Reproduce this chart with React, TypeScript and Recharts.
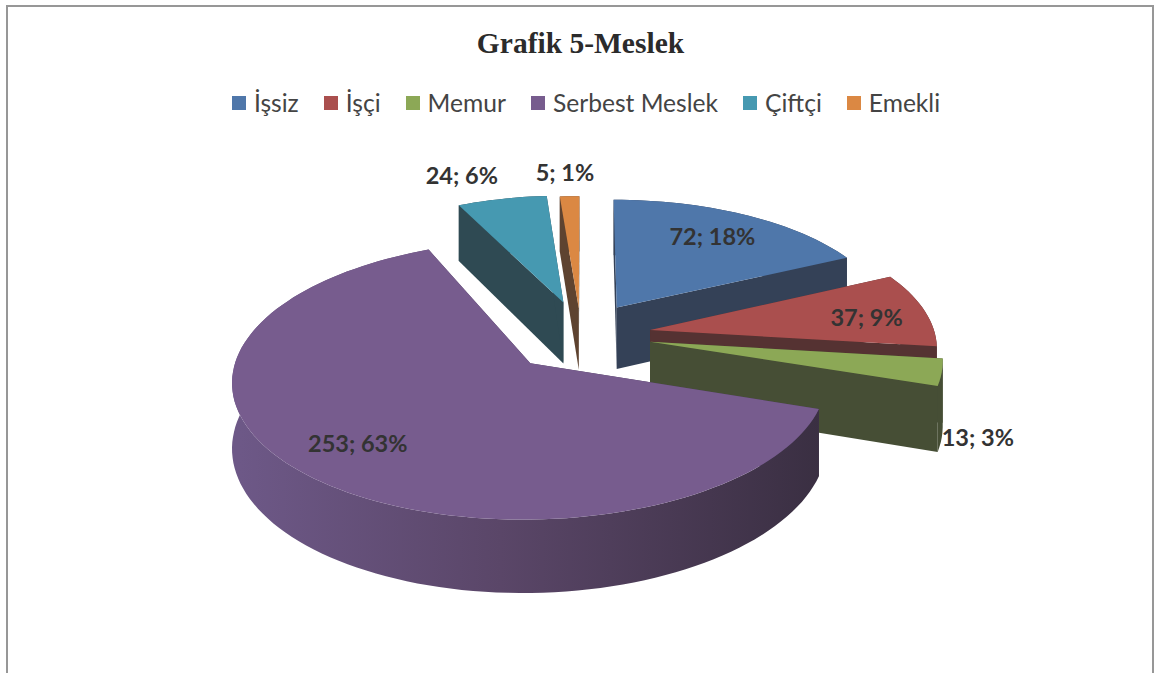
import React from 'react';
import { PieChart, Pie, Cell, Legend } from 'recharts';

const CATEGORIES = ['İşsiz', 'İşçi', 'Memur', 'Serbest Meslek', 'Çiftçi', 'Emekli'];
const VALUES = [72, 37, 13, 253, 24, 5];

const COLORS = ['#4f77aa', '#aa4f4e', '#8ca856', '#775c8e', '#4699b1', '#db8843'];
const WALLS = ['#344157', '#553232', '#464e35', '#4a3d5a', '#2f4a53', '#5e4330'];
const RIMS_DARK = ['#344157', '#553232', '#464e35', '#3a2f42', '#2f4a53', '#5e4330'];

// how far each slice is pulled out of the pie, as a share of the radius
const EXPLODE = [0.235, 0.23, 0.23, 0.28, 0.265, 0.21];
const SHIFT_U = [-0.012, 0, 0, 0, -0.008, -0.014];
const SHIFT_V = [-0.015, 0, 0, 0, 0, 0];
const SLICE_SCALE = [0.96, 0.99, 1, 1, 0.96, 1];
const END_TRIM = [0, 0, 0, -2.1, 0, 0];
// label placement: share of radius along the slice middle, then small nudges
const LABEL_R = [0.55, 0.82, 1.1, 0.62, 1.05, 1.02];
const LABEL_DX = [16, -11, 6, -41, -37, -8];
const LABEL_DY = [-18, 4, 62, 12, -15, -22];

const total = VALUES.reduce((a, b) => a + b, 0);
const tableData = CATEGORIES.map((name, i) => ({ name, value: VALUES[i] }));

// fake 3D: the pie is a flat disc seen through a simple perspective
const CX = 585;
const CY = 335;
const RX = 288;
const RY = 131;
const K = 0.117;
const DEPTH = 63;
const RAD = Math.PI / 180;

const project = (u: number, v: number, h = 0) => {
  const s = 1 / (1 - K * v);
  return [CX + RX * u * s, CY + RY * v * s + h * s];
};

const pts = (list: number[][]) =>
  'M' + list.map((p) => `${p[0].toFixed(1)},${p[1].toFixed(1)}`).join('L') + 'Z';

const Slice3D = (props: any) => {
  const { startAngle, endAngle, midAngle, name, fill } = props;
  const i = CATEGORIES.indexOf(name);
  const ox = Math.cos(midAngle * RAD) * EXPLODE[i] + SHIFT_U[i];
  const oy = -Math.sin(midAngle * RAD) * EXPLODE[i] + SHIFT_V[i];
  const end = endAngle + END_TRIM[i];

  const steps = Math.max(2, Math.ceil(Math.abs(end - startAngle) / 2));
  const arc: number[][] = [];
  for (let n = 0; n <= steps; n++) {
    const a = (startAngle + ((end - startAngle) * n) / steps) * RAD;
    arc.push([ox + Math.cos(a) * SLICE_SCALE[i], oy - Math.sin(a) * SLICE_SCALE[i]]);
  }
  const top = arc.map((p) => project(p[0], p[1]));
  const low = arc.map((p) => project(p[0], p[1], DEPTH));
  const apexTop = project(ox, oy);
  const apexLow = project(ox, oy, DEPTH);

  const gradId = `rim-${i}`;
  return (
    <g>
      <defs>
        <linearGradient id={gradId} gradientUnits="userSpaceOnUse" x1={240} x2={820} y1={0} y2={0}>
          <stop offset="0%" stopColor={i === 3 ? '#6d5887' : WALLS[i]} />
          <stop offset="45%" stopColor={i === 3 ? '#5a4668' : WALLS[i]} />
          <stop offset="100%" stopColor={RIMS_DARK[i]} />
        </linearGradient>
      </defs>
      <path d={pts([top[0], apexTop, apexLow, low[0]])} fill={WALLS[i]} />
      <path d={pts([top[top.length - 1], apexTop, apexLow, low[low.length - 1]])} fill={WALLS[i]} />
      <path d={pts([...top, ...low.slice().reverse()])} fill={`url(#${gradId})`} />
      <path d={pts([apexTop, ...top])} fill={fill} />
    </g>
  );
};

const renderLabel = (props: any) => {
  const { midAngle, index, value } = props;
  const dirU = Math.cos(midAngle * RAD);
  const dirV = -Math.sin(midAngle * RAD);
  const r = EXPLODE[index] + LABEL_R[index];
  const [x, y] = project(dirU * r, dirV * r);
  return (
    <text
      key={index}
      x={x + LABEL_DX[index]}
      y={y + LABEL_DY[index]}
      textAnchor="middle"
      dominantBaseline="central"
      fontFamily="Lato"
      fontWeight={700}
      fontSize={23.5}
      fill="#333333"
    >
      {`${value}; ${Math.round((value / total) * 100)}%`}
    </text>
  );
};

const LegendRow = ({ payload }: any) => (
  <div style={{ display: 'flex', justifyContent: 'center', gap: 25 }}>
    {(payload || []).map((item: any) => (
      <div key={item.value} style={{ display: 'flex', alignItems: 'center', gap: 8 }}>
        <span style={{ width: 14, height: 14, background: item.color, display: 'inline-block' }} />
        <span style={{ fontFamily: 'Lato', fontSize: 24.6, color: '#444444', lineHeight: '28px' }}>{item.value}</span>
      </div>
    ))}
  </div>
);

export default function App() {
  return (
    <div style={{ position: 'absolute', left: 0, top: 0, width: 1155, height: 673, overflow: 'hidden', background: '#fff' }}>
      <div
        style={{
          position: 'absolute',
          left: 6,
          top: 5,
          width: 1148,
          height: 680,
          border: '2px solid #979797',
          boxSizing: 'border-box',
        }}
      />
      <div
        style={{
          position: 'absolute',
          left: 0,
          width: 1161,
          top: 27,
          textAlign: 'center',
          fontFamily: 'Liberation Serif',
          fontWeight: 700,
          fontSize: 29.5,
          color: '#2b2b2b',
        }}
      >
        Grafik 5-Meslek
      </div>
      <PieChart width={1155} height={673}>
        <Legend
          content={<LegendRow />}
          verticalAlign="top"
          itemSorter={null}
          wrapperStyle={{ position: 'absolute', top: 89, left: 0, width: 1172 }}
        />
        <Pie
          data={tableData}
          dataKey="value"
          nameKey="name"
          cx={CX}
          cy={CY}
          outerRadius={RX}
          startAngle={90}
          endAngle={-270}
          stroke="none"
          shape={Slice3D}
          label={renderLabel}
          labelLine={false}
          isAnimationActive={false}
        >
          {tableData.map((entry, index) => (
            <Cell key={`cell-${index}`} fill={COLORS[index]} />
          ))}
        </Pie>
      </PieChart>
    </div>
  );
}
